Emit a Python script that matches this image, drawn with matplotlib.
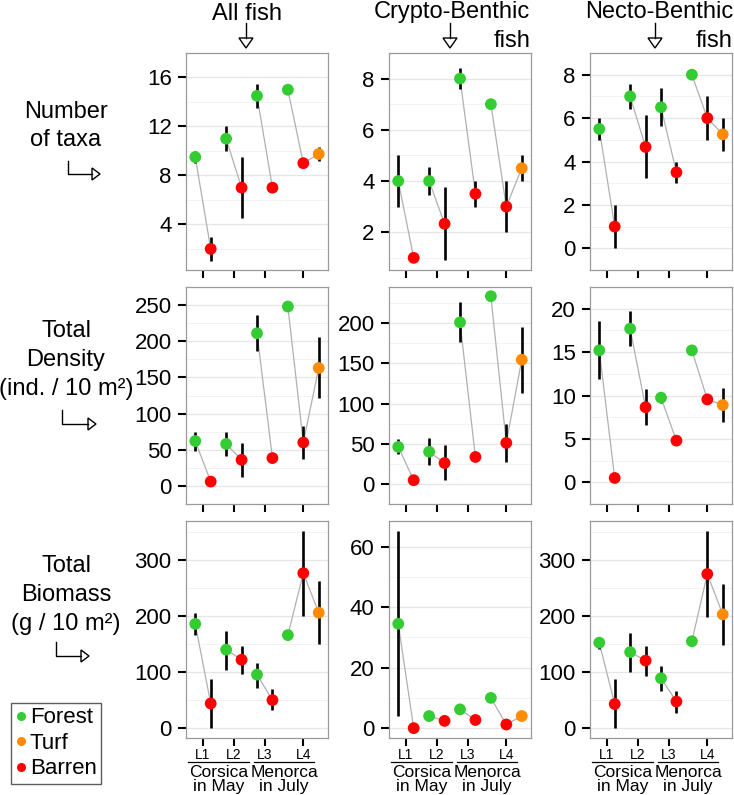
import numpy as np
import matplotlib
matplotlib.use('Agg')
import matplotlib.pyplot as plt
from matplotlib.lines import Line2D
from matplotlib.patches import Polygon

plt.rcParams['font.family'] = ['Liberation Sans', 'DejaVu Sans']

nan = np.nan

# Data: one point per site x habitat, in plotting order
sites = ['L1', 'L1', 'L2', 'L2', 'L3', 'L3', 'L4', 'L4', 'L4']
habitats = ['Forest', 'Barren', 'Forest', 'Barren', 'Forest', 'Barren', 'Forest', 'Barren', 'Turf']
site_order = ['L1', 'L2', 'L3', 'L4']
region_names = ['Corsica\nin May', 'Menorca\nin July']
region_sites = [['L1', 'L2'], ['L3', 'L4']]
legend_order = ['Forest', 'Turf', 'Barren']
habitat_colors = {'Forest': '#33cc33', 'Turf': '#ff8c00', 'Barren': '#ff0000'}

col_titles = ['All fish', 'Crypto-Benthic\nfish', 'Necto-Benthic\nfish']
row_titles = ['Number\nof taxa', 'Total\nDensity\n(ind. / 10 m²)', 'Total\nBiomass\n(g / 10 m²)']

# Number of taxa
taxa_all = [9.5, 2, 11, 7, 14.5, 7, 15, 9, 9.75]
taxa_all_lo = [9.0, 1, 10, 4.5, 13.5, nan, nan, nan, 9.15]
taxa_all_hi = [10.0, 3, 12, 9.5, 15.5, nan, nan, nan, 10.3]
taxa_crypto = [4, 1, 4, 2.33, 8, 3.5, 7, 3, 4.5]
taxa_crypto_lo = [3, nan, 3.45, 0.9, 7.6, 3, nan, 2, 4]
taxa_crypto_hi = [5, nan, 4.55, 3.77, 8.4, 4, nan, 4, 5]
taxa_necto = [5.5, 1, 7, 4.67, 6.5, 3.5, 8, 6, 5.25]
taxa_necto_lo = [5, 0, 6.43, 3.22, 5.63, 3, nan, 5, 4.5]
taxa_necto_hi = [6, 2, 7.57, 6.12, 7.37, 4, nan, 7, 6]

# Total density (ind. / 10 m2)
dens_all = [62, 6, 58, 36, 211, 38.5, 248, 60, 163]
dens_all_lo = [48, nan, 42, 12, 186, nan, nan, 37, 121]
dens_all_hi = [75, nan, 74, 59, 236, nan, nan, 83, 206]
dens_crypto = [46, 4.6, 40, 26, 201, 33.5, 233.5, 51, 154.5]
dens_crypto_lo = [37, nan, 23, 5, 177, nan, nan, 27, 113.5]
dens_crypto_hi = [56, nan, 57, 49, 226, nan, nan, 74, 195]
dens_necto = [15.2, 0.5, 17.7, 8.65, 9.75, 4.8, 15.2, 9.55, 8.9]
dens_necto_lo = [11.9, nan, 15.7, 6.6, 9.1, nan, nan, 9.1, 7.0]
dens_necto_hi = [18.55, nan, 19.7, 10.75, 10.4, nan, nan, 10.0, 10.9]

# Total biomass (g / 10 m2)
bio_all = [186, 44, 140, 122, 95.5, 50, 166, 276.5, 206]
bio_all_lo = [166, 0, 104, 97, 72, 32, nan, 200, 150]
bio_all_hi = [205, 88, 173, 147, 117, 69, nan, 352, 262]
bio_crypto = [34.5, 0, 4, 2.4, 6.2, 2.7, 10, 1.2, 4]
bio_crypto_lo = [4, nan, nan, nan, nan, nan, nan, nan, nan]
bio_crypto_hi = [65.2, nan, nan, nan, nan, nan, nan, nan, nan]
bio_necto = [152.5, 43, 135.7, 120.5, 89, 47.5, 155, 275, 203]
bio_necto_lo = [142, 0, 101, 93.5, 67, 27, nan, 198.5, 148.5]
bio_necto_hi = [163.5, 87.5, 169.5, 147, 110, 66.5, nan, 352, 258]

yticks = [
    [[4, 8, 12, 16], [2, 4, 6, 8], [0, 2, 4, 6, 8]],
    [[0, 50, 100, 150, 200, 250], [0, 50, 100, 150, 200], [0, 5, 10, 15, 20]],
    [[0, 100, 200, 300], [0, 20, 40, 60], [0, 100, 200, 300]],
]

panels = [
    [(taxa_all, taxa_all_lo, taxa_all_hi), (taxa_crypto, taxa_crypto_lo, taxa_crypto_hi),
     (taxa_necto, taxa_necto_lo, taxa_necto_hi)],
    [(dens_all, dens_all_lo, dens_all_hi), (dens_crypto, dens_crypto_lo, dens_crypto_hi),
     (dens_necto, dens_necto_lo, dens_necto_hi)],
    [(bio_all, bio_all_lo, bio_all_hi), (bio_crypto, bio_crypto_lo, bio_crypto_hi),
     (bio_necto, bio_necto_lo, bio_necto_hi)],
]

# Layout in pixels
W, H = 734, 795
fig = plt.figure(figsize=(W / 100, H / 100), dpi=100)


def fx(px):
    return px / W


def fy(py):
    return 1 - py / H


col_left = [186, 389, 590]
panel_w = 142
row_top = [53, 287, 521]
panel_h = 217

x = np.arange(1, len(sites) + 1)
site_x = {s: x[[i for i, ss in enumerate(sites) if ss == s]] for s in site_order}
tick_pos = [site_x[s].mean() for s in site_order]
colors = [habitat_colors[h] for h in habitats]

for r in range(3):
    for c in range(3):
        mean, lo, hi = (np.array(a, dtype=float) for a in panels[r][c])
        ax = fig.add_axes([fx(col_left[c]), fy(row_top[r] + panel_h),
                           panel_w / W, panel_h / H])
        for s in site_order:
            idx = [i for i, ss in enumerate(sites) if ss == s]
            ax.plot(x[idx], mean[idx], color='#b0b0b0', lw=0.9, zorder=1)
        ok = ~np.isnan(lo)
        ax.vlines(x[ok], lo[ok], hi[ok], color='black', lw=1.9, zorder=2)
        ax.scatter(x, mean, c=colors, s=72, linewidths=0, zorder=3)

        ax.set_xlim(0.4, 9.6)
        ax.set_yticks(yticks[r][c])
        step = yticks[r][c][1] - yticks[r][c][0]
        minors = np.arange(yticks[r][c][0] - step / 2, yticks[r][c][-1] + step, step)
        ax.set_yticks(minors, minor=True)
        ax.grid(axis='y', which='major', color='#e6e6e6', lw=0.9, zorder=0)
        ax.grid(axis='y', which='minor', color='#f3f3f3', lw=0.7, zorder=0)
        ax.set_axisbelow(True)
        ax.tick_params(axis='y', which='minor', length=0)
        ax.tick_params(axis='both', which='major', length=5.8, width=1.5,
                       color='black', labelsize=16, pad=4.5)
        ax.set_xticks(tick_pos)
        for sp in ax.spines.values():
            sp.set_color('#9a9a9a')
            sp.set_linewidth(0.9)

        if r == 2:
            ax.set_xticklabels(site_order, fontsize=10)
            ax.tick_params(axis='x', pad=1.5)
            tr = ax.get_xaxis_transform()
            for name, group in zip(region_names, region_sites):
                centre = np.mean([tick_pos[site_order.index(s)] for s in group])
                ax.plot([centre - 1.95, centre + 1.95], [-0.112, -0.112], transform=tr,
                        color='black', lw=0.9, clip_on=False)
                ax.text(centre, -0.243, name, transform=tr, ha='center',
                        va='baseline', fontsize=12.5, linespacing=0.86)
        else:
            ax.set_xticklabels([])


def open_triangle(pts):
    fig.add_artist(Polygon([(fx(a), fy(b)) for a, b in pts], closed=True,
                           fill=False, edgecolor='black', lw=1.0,
                           transform=fig.transFigure))


def polyline(pts):
    fig.add_artist(Line2D([fx(a) for a, b in pts], [fy(b) for a, b in pts],
                          color='black', lw=1.0, transform=fig.transFigure))


# Column titles with down arrows
fig.text(fx(247), fy(20), col_titles[0], ha='center', va='baseline', fontsize=17)
for ctitle, right in zip(col_titles[1:], [530, 733]):
    top, bottom = ctitle.split('\n')
    fig.text(fx(right), fy(18), top, ha='right', va='baseline', fontsize=17)
    fig.text(fx(right), fy(47), bottom, ha='right', va='baseline', fontsize=17)
for ax_x in [246, 450, 655]:
    polyline([(ax_x, 23), (ax_x, 38)])
    open_triangle([(ax_x - 7, 38), (ax_x + 7, 38), (ax_x, 48)])

# Row titles with bent arrows
row_text_y = [126, 360, 595]
row_arrow = [(67.5, 161, 174, 92), (62.5, 410, 424, 88), (56, 642, 656, 81)]
for rtitle, ty, (x0, y0, y1, x1) in zip(row_titles, row_text_y, row_arrow):
    fig.text(fx(66), fy(ty), rtitle, ha='center', va='center', fontsize=17,
             linespacing=1.4)
    polyline([(x0, y0), (x0, y1), (x1, y1)])
    open_triangle([(x1, y1 - 6), (x1, y1 + 6), (x1 + 8, y1)])

# Legend
handles = [Line2D([], [], marker='o', ls='', color=habitat_colors[h], markersize=6.5,
                  markeredgewidth=0) for h in legend_order]
leg = fig.legend(handles, legend_order, loc='upper left',
                 bbox_to_anchor=(fx(11), fy(703)), frameon=True, fancybox=False,
                 edgecolor='#333333', fontsize=16, borderpad=0.2, handlelength=0.5,
                 handletextpad=0.15, labelspacing=0.2, borderaxespad=0)
leg.get_frame().set_linewidth(1.0)

fig.savefig('out.png', dpi=100)
